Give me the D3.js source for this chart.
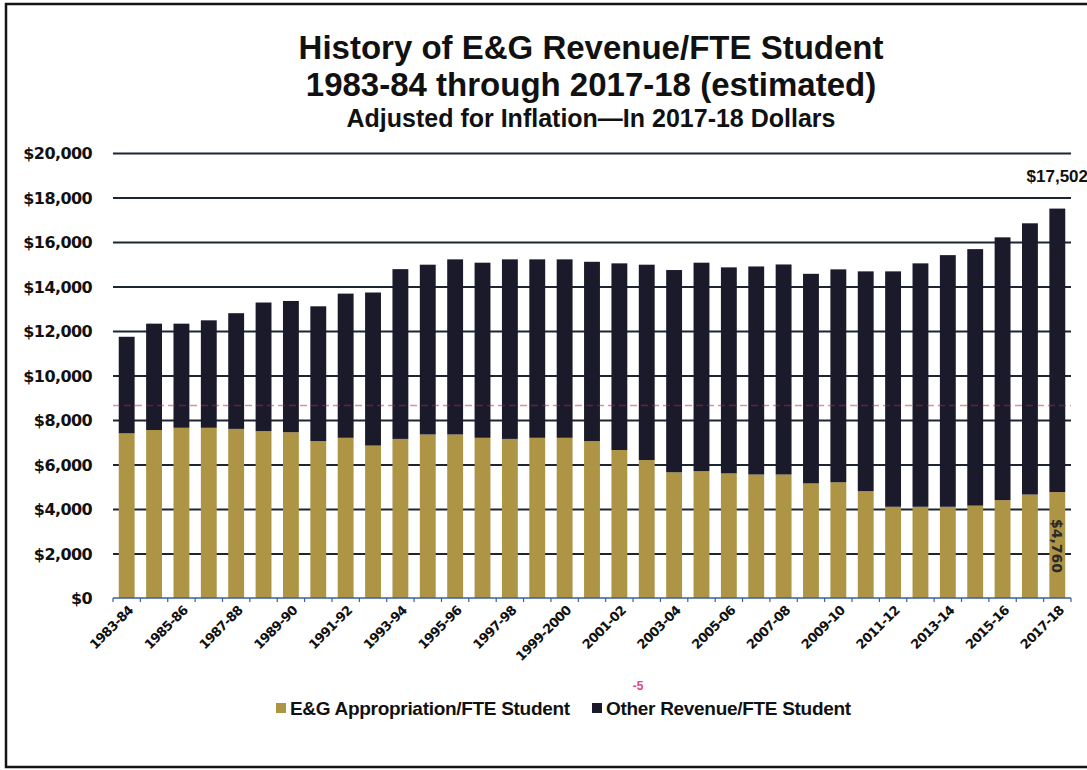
<!DOCTYPE html>
<html>
<head>
<meta charset="utf-8">
<script src="https://cdn.jsdelivr.net/npm/d3@7"></script>
<style>
  body { margin: 0; background: #fff; }
  svg { display: block; }
</style>
</head>
<body>
<svg id="chart" width="1087" height="770"></svg>
<script>
// Fiscal years shown on the category axis
const years = [
  "1983-84","1984-85","1985-86","1986-87","1987-88","1988-89","1989-90","1990-91",
  "1991-92","1992-93","1993-94","1994-95","1995-96","1996-97","1997-98","1998-99",
  "1999-2000","2000-01","2001-02","2002-03","2003-04","2004-05","2005-06","2006-07",
  "2007-08","2008-09","2009-10","2010-11","2011-12","2012-13","2013-14","2014-15",
  "2015-16","2016-17","2017-18"
];

// Total E&G revenue per FTE student (2017-18 dollars)
const totalRevenue = [
  11740, 12330, 12330, 12480, 12800, 13280, 13350, 13110,
  13680, 13730, 14780, 14980, 15220, 15070, 15220, 15220,
  15220, 15110, 15040, 14980, 14740, 15070, 14860, 14900,
  14990, 14570, 14770, 14680, 14680, 15040, 15410, 15680,
  16210, 16840, 17502
];

// State E&G appropriation per FTE student (2017-18 dollars)
const appropriation = [
  7400, 7550, 7650, 7650, 7600, 7500, 7450, 7050,
  7200, 6850, 7150, 7350, 7350, 7200, 7150, 7200,
  7200, 7050, 6650, 6200, 5650, 5700, 5600, 5550,
  5550, 5150, 5200, 4800, 4100, 4100, 4100, 4150,
  4400, 4650, 4760
];

const yTicks = [0, 2000, 4000, 6000, 8000, 10000, 12000, 14000, 16000, 18000, 20000];
const xLabelYears = years.filter((d, i) => i % 2 === 0);
const seriesKeys = ["appropriation", "other"];
const seriesNames = ["E&G Appropriation/FTE Student", "Other Revenue/FTE Student"];
const seriesColors = ["#ae9546", "#1b1a2a"];
const referenceLevel = [8650];
const titleLines = [
  "History of E&G Revenue/FTE Student",
  "1983-84 through 2017-18 (estimated)",
  "Adjusted for Inflation\u2014In 2017-18 Dollars"
];

const svg = d3.select("#chart");
const plotLeft = 113, plotRight = 1071, plotTop = 153, plotBottom = 598;

const x = d3.scaleBand()
  .domain(years)
  .range([plotLeft, plotRight])
  .paddingInner(0.42)
  .paddingOuter(0.21);

const y = d3.scaleLinear()
  .domain([0, 20000])
  .range([plotBottom, plotTop]);

const money = d => "$" + d3.format(",")(d);

// outer frame
svg.append("rect")
  .attr("x", 6).attr("y", 4)
  .attr("width", 1100).attr("height", 763)
  .attr("fill", "none")
  .attr("stroke", "#151515")
  .attr("stroke-width", 2.5);

// titles
const titleSizes = [33, 33, 25];
const titleBaselines = [59, 96, 127];
svg.selectAll("text.title")
  .data(titleLines)
  .join("text")
  .attr("class", "title")
  .attr("x", 591)
  .attr("y", (d, i) => titleBaselines[i])
  .attr("text-anchor", "middle")
  .attr("font-family", "'Liberation Sans', Arial, sans-serif")
  .attr("font-weight", "bold")
  .attr("font-size", (d, i) => titleSizes[i])
  .attr("fill", "#111")
  .text(d => d);

// value axis with full-width gridlines
const yAxis = d3.axisLeft(y)
  .tickValues(yTicks)
  .tickSize(-(plotRight - plotLeft))
  .tickFormat(money);

const gy = svg.append("g")
  .attr("transform", `translate(${plotLeft},0)`)
  .call(yAxis);
gy.select(".domain").remove();
gy.selectAll(".tick line")
  .attr("stroke", "#1d2533")
  .attr("stroke-width", 2)
  .attr("opacity", d => d === 0 ? 0 : 1);
gy.selectAll(".tick text")
  .attr("x", -21)
  .attr("dy", "0.35em")
  .attr("font-family", "'DejaVu Sans', sans-serif")
  .attr("font-weight", "bold")
  .attr("font-size", 16)
  .attr("letter-spacing", "-0.6px")
  .attr("fill", "#111");

// stacked bars
const rows = years.map((yr, i) => ({
  year: yr,
  appropriation: appropriation[i],
  other: totalRevenue[i] - appropriation[i]
}));
const stacked = d3.stack().keys(seriesKeys)(rows);

svg.append("g")
  .selectAll("g")
  .data(stacked)
  .join("g")
  .attr("fill", (d, i) => seriesColors[i])
  .selectAll("rect")
  .data(d => d)
  .join("rect")
  .attr("x", d => x(d.data.year))
  .attr("width", x.bandwidth())
  .attr("y", d => y(d[1]))
  .attr("height", d => y(d[0]) - y(d[1]));

// faint dashed reference line
svg.append("g")
  .selectAll("line")
  .data(referenceLevel)
  .join("line")
  .attr("x1", plotLeft).attr("x2", plotRight)
  .attr("y1", d => y(d)).attr("y2", d => y(d))
  .attr("stroke", "#b0244c")
  .attr("stroke-width", 1.5)
  .attr("stroke-dasharray", "7,4")
  .attr("opacity", 0.5);

// category axis: baseline and ticks between categories
const boundaries = years.map(d => x(d) - (x.step() - x.bandwidth()) / 2).concat([plotRight]);
const gx = svg.append("g");
gx.append("line")
  .attr("x1", plotLeft).attr("x2", plotRight)
  .attr("y1", plotBottom).attr("y2", plotBottom)
  .attr("stroke", "#3a5f9a")
  .attr("stroke-width", 1.5);
gx.selectAll("line.tk")
  .data(boundaries)
  .join("line")
  .attr("class", "tk")
  .attr("x1", d => d).attr("x2", d => d)
  .attr("y1", plotBottom).attr("y2", plotBottom + 4)
  .attr("stroke", "#3a5f9a")
  .attr("stroke-width", 1.2);

gx.selectAll("text.xl")
  .data(xLabelYears)
  .join("text")
  .attr("class", "xl")
  .attr("transform", d => `translate(${x(d) + x.bandwidth() / 2 + 4},${plotBottom + 10}) rotate(-45)`)
  .attr("text-anchor", "end")
  .attr("dy", "0.35em")
  .attr("font-family", "'DejaVu Sans', sans-serif")
  .attr("font-weight", "bold")
  .attr("font-size", 13)
  .attr("letter-spacing", "-0.7px")
  .attr("fill", "#111")
  .text(d => d);

// value labels on the final year
const last = rows[rows.length - 1];
const lastCx = x(last.year) + x.bandwidth() / 2;
svg.append("text")
  .attr("x", lastCx)
  .attr("y", y(totalRevenue[totalRevenue.length - 1]) - 27)
  .attr("text-anchor", "middle")
  .attr("font-family", "'Liberation Sans', Arial, sans-serif")
  .attr("font-weight", "bold")
  .attr("font-size", 17)
  .attr("fill", "#111")
  .text(money(totalRevenue[totalRevenue.length - 1]));

svg.append("text")
  .attr("transform", `translate(${lastCx},${plotBottom - 25}) rotate(90)`)
  .attr("text-anchor", "end")
  .attr("dy", "0.35em")
  .attr("font-family", "'DejaVu Sans', sans-serif")
  .attr("font-weight", "bold")
  .attr("font-size", 14)
  .attr("fill", "#2a2a2a")
  .text(money(appropriation[appropriation.length - 1]));

// small pink annotation mark
svg.append("text")
  .attr("x", 638).attr("y", 690)
  .attr("text-anchor", "middle")
  .attr("font-family", "'Liberation Sans', Arial, sans-serif")
  .attr("font-weight", "bold")
  .attr("font-size", 12)
  .attr("fill", "#e0457e")
  .text("-5");

// legend
const legendX = [276, 592];
const legend = svg.append("g")
  .selectAll("g")
  .data(seriesNames)
  .join("g")
  .attr("transform", (d, i) => `translate(${legendX[i]},708)`);
legend.append("rect")
  .attr("x", 0).attr("y", -5)
  .attr("width", 10).attr("height", 10)
  .attr("fill", (d, i) => seriesColors[i]);
legend.append("text")
  .attr("x", 14)
  .attr("dy", "0.35em")
  .attr("font-family", "'Liberation Sans', Arial, sans-serif")
  .attr("font-weight", "bold")
  .attr("font-size", 19)
  .attr("letter-spacing", "-0.3px")
  .attr("fill", "#111")
  .text(d => d);
</script>
</body>
</html>
